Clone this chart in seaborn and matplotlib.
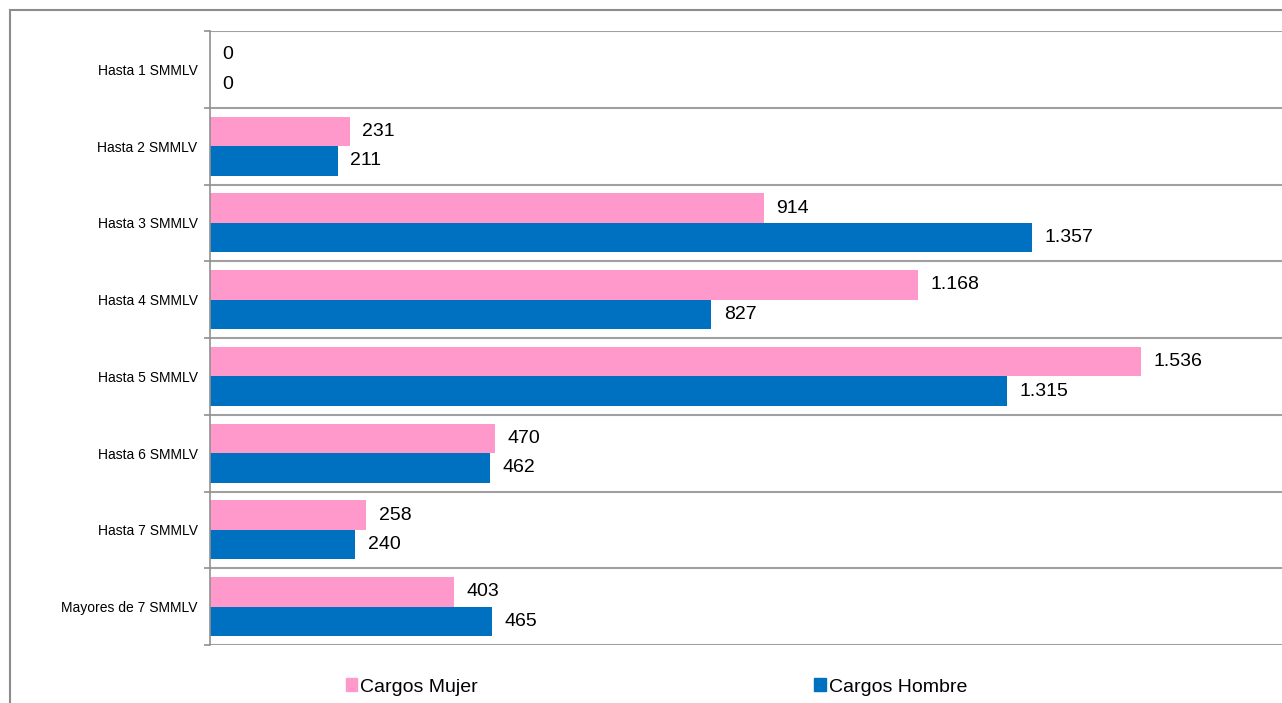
import matplotlib.pyplot as plt
import matplotlib.patches as mpatches
import numpy as np
import pandas as pd
import seaborn as sns

categorias = ["Hasta 1 SMMLV", "Hasta 2 SMMLV", "Hasta 3 SMMLV", "Hasta 4 SMMLV",
              "Hasta 5 SMMLV", "Hasta 6 SMMLV", "Hasta 7 SMMLV", "Mayores de 7 SMMLV"]
cargos_mujer = [0, 231, 914, 1168, 1536, 470, 258, 403]
cargos_hombre = [0, 211, 1357, 827, 1315, 462, 240, 465]
series = ["Cargos Mujer", "Cargos Hombre"]
colores = ["#FF99CC", "#0070C0"]

df = pd.DataFrame({
    "categoria": categorias * 2,
    "valor": cargos_mujer + cargos_hombre,
    "serie": [series[0]] * len(categorias) + [series[1]] * len(categorias),
})

sns.set_theme(style="white")
plt.rcParams["font.family"] = ["Liberation Sans", "DejaVu Sans"]
plt.rcParams["text.color"] = "black"

fig = plt.figure(figsize=(12.82, 7.03), dpi=100)
ax = fig.add_axes([210 / 1282, 1 - 645 / 703, 1 - 210 / 1282, (645 - 31) / 703])

sns.barplot(data=df, y="categoria", x="valor", hue="serie", order=categorias,
            hue_order=series, palette=colores, orient="h", width=0.77,
            linewidth=0, saturation=1, ax=ax, legend=False)

def fmt(v):
    return f"{int(v):,}".replace(",", ".")

for cont in ax.containers:
    ax.bar_label(cont, labels=[fmt(b.get_width()) for b in cont], padding=9,
                 fontsize=14, color="black")

ax.set_xlim(0, 1769)
ax.set_ylim(len(categorias) - 0.5, -0.5)
ax.set_xlabel("")
ax.set_ylabel("")
ax.set_xticks([])
ax.set_yticks(range(len(categorias)))
ax.set_yticklabels(categorias, fontsize=10, color="black")
ax.set_yticks(np.arange(-0.5, len(categorias), 1), minor=True)
ax.tick_params(axis="y", which="major", length=0, pad=9)
ax.tick_params(axis="y", which="minor", length=4, width=1.2, color="#909090", left=True)
ax.grid(False)
ax.grid(axis="y", which="minor", color="#A0A0A0", linewidth=1.5)
ax.set_axisbelow(True)
for s in ["top", "right", "bottom"]:
    ax.spines[s].set_visible(False)
ax.spines["left"].set_color("#909090")
ax.spines["left"].set_linewidth(1.2)

# chart border
fig.patches.append(mpatches.Rectangle((10 / 1282, -0.1), 1.2, 1 - 10 / 703 + 0.1,
                                      transform=fig.transFigure, fill=False,
                                      edgecolor="#8C8C8C", linewidth=1.5))

handles = [mpatches.Patch(color=c, label=s) for c, s in zip(colores, series)]
leg = fig.legend(handles=handles, loc="center", bbox_to_anchor=(0.512, 1 - 687 / 703),
                 ncol=2, frameon=False, fontsize=14, handlelength=0.6, handleheight=0.6,
                 handletextpad=0.15, columnspacing=17.3, borderpad=0)
for t in leg.get_texts():
    t.set_color("black")

fig.savefig("out.png", dpi=100)
